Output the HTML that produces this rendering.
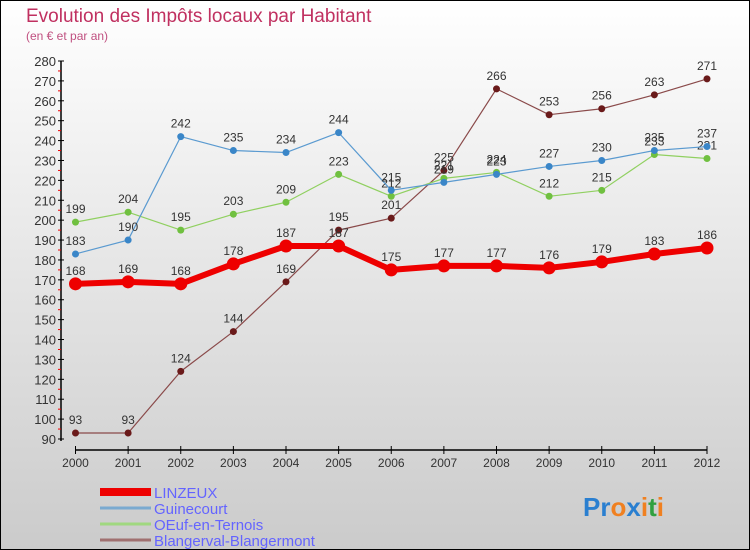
<!DOCTYPE html>
<html><head><meta charset="utf-8"><style>
body{margin:0}
#c{width:750px;height:550px;position:relative;overflow:hidden}
svg text{font-family:"Liberation Sans",sans-serif}
</style></head><body>
<div id="c">
<svg id="s" width="750" height="550" xmlns="http://www.w3.org/2000/svg">
<defs><linearGradient id="bg" x1="0" y1="0" x2="0" y2="1"><stop offset="0" stop-color="#ffffff"/><stop offset="1" stop-color="#cbcbcb"/></linearGradient></defs>
<rect x="0.5" y="0.5" width="749" height="549" fill="url(#bg)" stroke="#000"/>
<text x="26" y="22" font-size="19" fill="#c03060">Evolution des Impôts locaux par Habitant</text>
<text x="26" y="40" font-size="12" fill="#c05080">(en € et par an)</text>
<g id="axes"></g>
<g id="series"></g>
<g id="legend"></g>
<text x="583" y="516" font-size="26" font-weight="bold"><tspan fill="#2a7fd0">Pr</tspan><tspan fill="#f08020">o</tspan><tspan fill="#2a7fd0">x</tspan><tspan fill="#f08020">i</tspan><tspan fill="#30a040">t</tspan><tspan fill="#f08020">i</tspan></text>
</svg>
</div>
<script>
const years=[2000,2001,2002,2003,2004,2005,2006,2007,2008,2009,2010,2011,2012];
const linzeux=[168,169,168,178,187,187,175,177,177,176,179,183,186];
const guinecourt=[183,190,242,235,234,244,215,219,223,227,230,235,237];
const oeuf=[199,204,195,203,209,223,212,221,224,212,215,233,231];
const blangerval=[93,93,124,144,169,195,201,225,266,253,256,263,271];
const yTicks=[90,100,110,120,130,140,150,160,170,180,190,200,210,220,230,240,250,260,270,280];
const seriesNames=["LINZEUX","Guinecourt","OEuf-en-Ternois","Blangerval-Blangermont"];
const NS="http://www.w3.org/2000/svg";
const x0=75.5,x1=707,yMin=90,yMax=280,yTop=61,yBot=439;
const xs=i=>x0+(x1-x0)*i/(years.length-1);
const ys=v=>yBot-(v-yMin)*(yBot-yTop)/(yMax-yMin);
function mk(t,a,p){const e=document.createElementNS(NS,t);for(const k in a)e.setAttribute(k,a[k]);p.appendChild(e);return e;}
const ax=document.getElementById('axes');
let l=mk('line',{x1:61,y1:yTop,x2:61,y2:yBot+2,stroke:'#000','stroke-width':1.5},ax);


yTicks.forEach((v,i)=>{
 let t=mk('line',{x1:58,y1:ys(v),x2:64,y2:ys(v),stroke:'#000'},ax);
 
 
 if(i<yTicks.length-1){let m=mk('line',{x1:58,y1:ys(v+5),x2:61,y2:ys(v+5),stroke:'#e00'},ax);
 
 }
 let tx=mk('text',{x:56,y:ys(v)+5,'font-size':13,'text-anchor':'end',fill:'#333'},ax);tx.textContent=v;
 
 
});
l=mk('line',{x1:x0,y1:450,x2:x1,y2:450,stroke:'#000','stroke-width':1.5},ax);


years.forEach((y,i)=>{
 let t=mk('line',{x1:xs(i),y1:446,x2:xs(i),y2:454,stroke:'#000'},ax);
 
 
 let tx=mk('text',{x:xs(i),y:467,'font-size':12,'text-anchor':'middle',fill:'#333'},ax);tx.textContent=y;
 
 
});
const sg=document.getElementById('series');
const cfg=[[blangerval,'#8a4a4a','#6a1a1a',1.2,3.5],[oeuf,'#90d060','#70c040',1.2,3.5],[guinecourt,'#5a9ad0','#3a86c8',1.2,3.5],[linzeux,'#ee0000','#ee0000',6,6.5]];
const order=[3,2,1,0];
cfg.forEach((c,k)=>{
 const [d,lc,pc,w,r]=c;
 const g=mk('g',{},sg);
 
 
 let p=mk('polyline',{points:d.map((v,i)=>xs(i)+','+ys(v)).join(' '),fill:'none',stroke:lc,'stroke-width':w,'stroke-linejoin':'round'},g);
 
 
 d.forEach((v,i)=>{
  let ci=mk('circle',{cx:xs(i),cy:ys(v),r:r,fill:pc},g);
  
  
  let tx=mk('text',{x:xs(i),y:ys(v)-9,'font-size':12,'text-anchor':'middle',fill:'#333'},g);tx.textContent=v;
  
  
 });
});
const lg=document.getElementById('legend');
const lcol=['#ee0000','#7aaad0','#a0d880','#a07070'],lw=[8,3,3,3];
seriesNames.forEach((n,i)=>{
 const y=492+i*16;
 let g=mk('g',{},lg);
 
 
 mk('line',{x1:100,y1:y,x2:151,y2:y,stroke:lcol[i],'stroke-width':lw[i]},g);
 let tx=mk('text',{x:154,y:y+6,'font-size':15,fill:'#6464ff'},g);tx.textContent=n;
});
</script>
</body></html>
